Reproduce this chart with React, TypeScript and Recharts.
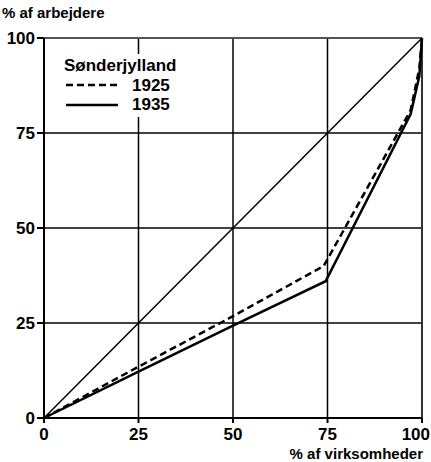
import React from 'react';
import { LineChart, Line, XAxis, YAxis, ReferenceLine } from 'recharts';

const ticks = [0, 25, 50, 75, 100];
const innerGrid = [25, 50, 75];

const equality = [
  { x: 0, y: 0 },
  { x: 100, y: 100 },
];
const s1925 = [
  { x: 0, y: 0 },
  { x: 25, y: 13.5 },
  { x: 50, y: 26.8 },
  { x: 74, y: 40 },
  { x: 97, y: 81 },
  { x: 99.3, y: 92 },
  { x: 100, y: 100 },
];
const s1935 = [
  { x: 0, y: 0 },
  { x: 25, y: 12.2 },
  { x: 50, y: 24.3 },
  { x: 74.5, y: 36 },
  { x: 97, y: 80 },
  { x: 99.3, y: 90 },
  { x: 100, y: 100 },
];

const FONT = '"Liberation Sans Narrow", "Liberation Sans", Arial, sans-serif';

const XTick = (props: any) => {
  const { x, y, payload } = props;
  const last = payload.value === 100;
  return (
    <text
      x={last ? x + 8 : x}
      y={y + 15}
      textAnchor={last ? 'end' : 'middle'}
      fill="#000"
      fontSize={17}
      fontFamily={FONT}
      fontWeight={700}
    >
      {payload.value}
    </text>
  );
};

export default function App() {
  const tickStyle = { fill: '#000', fontSize: 17, fontFamily: FONT, fontWeight: 700 };
  return (
    <div style={{ position: 'absolute', left: 0, top: 0, width: 431, height: 462, background: '#fff' }}>
      <LineChart width={431} height={462} margin={{ top: 38, right: 9, bottom: 14, left: 0 }}>
        <XAxis
          type="number"
          dataKey="x"
          domain={[0, 100]}
          ticks={ticks}
          interval={0}
          axisLine={{ stroke: '#000', strokeWidth: 2 }}
          tickLine={{ stroke: '#000', strokeWidth: 2 }}
          tickSize={5}
          tick={<XTick />}
          height={30}
        />
        <YAxis
          type="number"
          dataKey="y"
          domain={[0, 100]}
          ticks={ticks}
          interval={0}
          axisLine={{ stroke: '#000', strokeWidth: 2 }}
          tickLine={{ stroke: '#000', strokeWidth: 2 }}
          tickSize={7}
          tick={tickStyle}
          width={44}
        />
        {innerGrid.map((v) => (
          <ReferenceLine key={'h' + v} y={v} stroke="#000" strokeWidth={1.5} />
        ))}
        {innerGrid.map((v) => (
          <ReferenceLine key={'v' + v} x={v} stroke="#000" strokeWidth={1.5} />
        ))}
        <ReferenceLine y={100} stroke="#555" strokeWidth={2} />
        <ReferenceLine x={100} stroke="#333" strokeWidth={2} />
        <Line data={equality} dataKey="y" stroke="#000" strokeWidth={1.5} dot={false} isAnimationActive={false} />
        <Line data={s1925} dataKey="y" stroke="#000" strokeWidth={2.5} strokeDasharray="7 4" dot={false} isAnimationActive={false} />
        <Line data={s1935} dataKey="y" stroke="#000" strokeWidth={2.5} dot={false} isAnimationActive={false} />
      </LineChart>
      <div style={{ position: 'absolute', left: 2, top: 4, fontFamily: FONT, fontWeight: 700, fontSize: 15, color: '#000' }}>
        % af arbejdere
      </div>
      <div style={{ position: 'absolute', right: 8, top: 445, fontFamily: FONT, fontWeight: 700, fontSize: 15, color: '#000' }}>
        % af virksomheder
      </div>
      <div style={{ position: 'absolute', left: 62, top: 54, fontFamily: FONT, fontWeight: 700, fontSize: 17, color: '#000', lineHeight: '19.5px', background: '#fff', padding: '2px 4px 2px 2px' }}>
        <div>Sønderjylland</div>
        <div style={{ display: 'flex', alignItems: 'center' }}>
          <svg width={56} height={10}><line x1={2} y1={5} x2={54} y2={5} stroke="#000" strokeWidth={2.5} strokeDasharray="7 4" /></svg>
          <span style={{ marginLeft: 12 }}>1925</span>
        </div>
        <div style={{ display: 'flex', alignItems: 'center' }}>
          <svg width={56} height={10}><line x1={2} y1={5} x2={54} y2={5} stroke="#000" strokeWidth={2.5} /></svg>
          <span style={{ marginLeft: 12 }}>1935</span>
        </div>
      </div>
    </div>
  );
}
